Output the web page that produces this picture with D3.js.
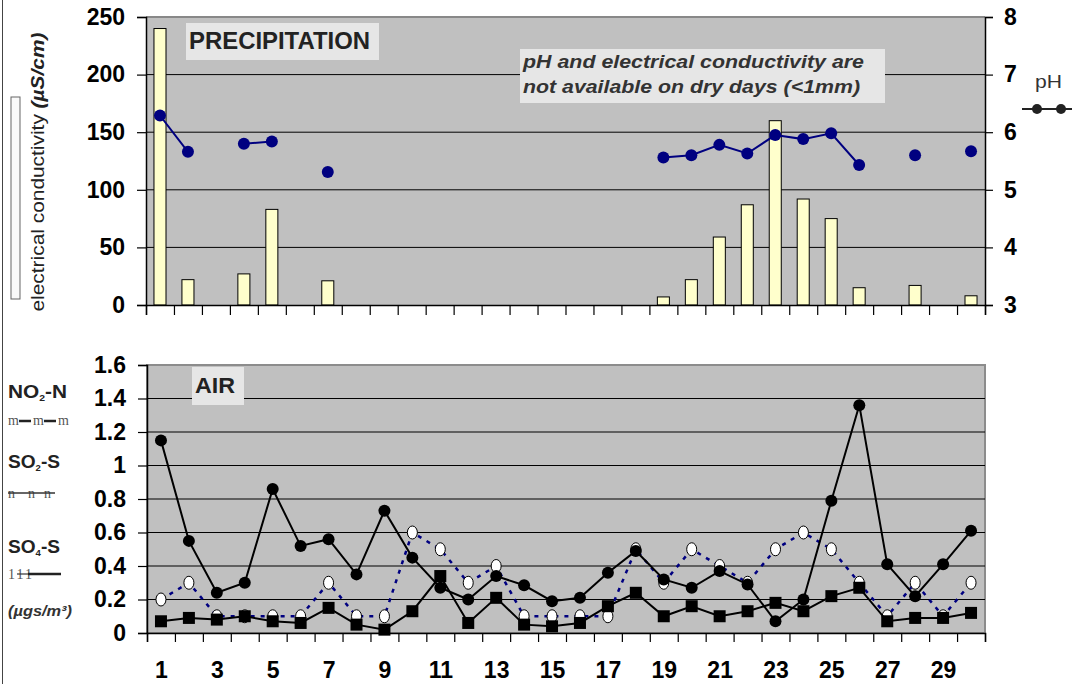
<!DOCTYPE html>
<html>
<head>
<meta charset="utf-8">
<script src="https://cdn.jsdelivr.net/npm/d3@7"></script>
<style>
  body { margin: 0; background: #fff; }
  svg { font-family: "Liberation Sans", Arial, sans-serif; }
</style>
</head>
<body>
<div id="chart"></div>
<script>
// days of the month
let days = d3.range(1, 31);
let oddDays = d3.range(1, 31, 2);

// precipitation: electrical conductivity (bars), null = dry day
let conductivity = [240, 22, null, 27, 83, null, 21, null, null, null, null, null, null, null, null, null, null, null,
  7, 22, 59, 87, 160, 92, 75, 15, null, 17, null, 8];
// precipitation pH (dots)
let ph = [6.29, 5.66, null, 5.80, 5.84, null, 5.31, null, null, null, null, null, null, null, null, null, null, null,
  5.56, 5.60, 5.78, 5.63, 5.95, 5.88, 5.98, 5.43, null, 5.60, null, 5.67];

// air concentrations (µg/m3)
let no2n = [1.15, 0.55, 0.24, 0.30, 0.86, 0.52, 0.56, 0.35, 0.73, 0.45, 0.27, 0.20, 0.34, 0.285, 0.19,
  0.21, 0.36, 0.49, 0.32, 0.27, 0.37, 0.29, 0.07, 0.20, 0.79, 1.36, 0.41, 0.22, 0.41, 0.61];
let so2s = [0.20, 0.30, 0.10, 0.10, 0.10, 0.10, 0.30, 0.10, 0.10, 0.60, 0.50, 0.30, 0.40, 0.10, 0.10,
  0.10, 0.10, 0.50, 0.30, 0.50, 0.40, 0.30, 0.50, 0.60, 0.50, 0.30, 0.10, 0.30, 0.10, 0.30];
let so4s = [0.07, 0.09, 0.08, 0.10, 0.07, 0.06, 0.15, 0.05, 0.02, 0.13, 0.34, 0.06, 0.21, 0.05, 0.04,
  0.06, 0.16, 0.24, 0.10, 0.16, 0.10, 0.13, 0.18, 0.13, 0.22, 0.27, 0.07, 0.09, 0.09, 0.12];

let ecTicks = [0, 50, 100, 150, 200, 250];
let phTicks = [3, 4, 5, 6, 7, 8];
let airTicks = [0, 0.2, 0.4, 0.6, 0.8, 1, 1.2, 1.4, 1.6];

let svg = d3.select("#chart").append("svg")
  .attr("width", 1072)
  .attr("height", 684);

// the original text is a bit wider than the font, so stretch it to a given length
function fit(sel, len) {
  return sel.attr("textLength", len).attr("lengthAdjust", "spacingAndGlyphs");
}

// left border of the chart area
svg.append("line")
  .attr("x1", 2.5).attr("x2", 2.5).attr("y1", 0).attr("y2", 684)
  .attr("stroke", "#444").attr("stroke-width", 1);

// ---------------- PRECIPITATION panel ----------------
let topBox = {left: 146, right: 985, top: 17, bottom: 305};

let xTop = d3.scaleLinear().domain([0.5, 30.5]).range([topBox.left, topBox.right]);
let yEc = d3.scaleLinear().domain([0, 250]).range([topBox.bottom, topBox.top]);
let yPh = d3.scaleLinear().domain([3, 8]).range([topBox.bottom, topBox.top]);
let bandW = xTop(1.5) - xTop(0.5);

let g1 = svg.append("g");

g1.append("rect")
  .attr("x", topBox.left).attr("y", topBox.top)
  .attr("width", topBox.right - topBox.left).attr("height", topBox.bottom - topBox.top)
  .attr("fill", "#c0c0c0");

g1.append("line")
  .attr("x1", topBox.left).attr("x2", topBox.right).attr("y1", topBox.top).attr("y2", topBox.top)
  .attr("stroke", "#888").attr("stroke-width", 2);

// gridlines
g1.selectAll(".grid")
  .data(ecTicks.filter(d => d > 0 && d < 250))
  .enter().append("line")
  .attr("x1", topBox.left).attr("x2", topBox.right)
  .attr("y1", d => yEc(d)).attr("y2", d => yEc(d))
  .attr("stroke", "#000").attr("stroke-width", 1);

// bars
g1.selectAll(".bar")
  .data(days.filter((d, i) => conductivity[i] !== null))
  .enter().append("rect")
  .attr("x", d => xTop(d) - bandW * 0.215)
  .attr("y", d => yEc(conductivity[d - 1]))
  .attr("width", bandW * 0.43)
  .attr("height", d => yEc(0) - yEc(conductivity[d - 1]))
  .attr("fill", "#ffffcc")
  .attr("stroke", "#000")
  .attr("stroke-width", 1);

// pH line (broken on dry days)
let phLine = d3.line()
  .defined(d => d.v !== null)
  .x(d => xTop(d.day))
  .y(d => yPh(d.v));

let phData = days.map((d, i) => ({day: d, v: ph[i]}));

g1.append("path")
  .datum(phData)
  .attr("d", phLine)
  .attr("fill", "none")
  .attr("stroke", "#000080")
  .attr("stroke-width", 2);

g1.selectAll(".ph")
  .data(phData.filter(d => d.v !== null))
  .enter().append("circle")
  .attr("cx", d => xTop(d.day))
  .attr("cy", d => yPh(d.v))
  .attr("r", 6)
  .attr("fill", "#000080");

// axes
let leftAxis1 = d3.axisLeft(yEc).tickValues(ecTicks).tickSize(9).tickPadding(12);
let rightAxis1 = d3.axisRight(yPh).tickValues(phTicks).tickSize(8).tickPadding(11).tickFormat(d3.format("d"));
let bottomTicks1 = d3.axisBottom(xTop).tickValues(d3.range(0.5, 31, 1)).tickSize(10).tickFormat("");

g1.append("g")
  .attr("transform", `translate(${topBox.left},0)`)
  .call(leftAxis1);
g1.append("g")
  .attr("transform", `translate(${topBox.right},0)`)
  .call(rightAxis1);
g1.append("g")
  .attr("transform", `translate(0,${topBox.bottom})`)
  .call(bottomTicks1);

// label boxes
g1.append("rect")
  .attr("x", 186).attr("y", 23).attr("width", 193).attr("height", 37)
  .attr("fill", "#e6e6e6");
fit(g1.append("text")
  .attr("x", 189).attr("y", 49)
  .attr("font-size", 23).attr("font-weight", "bold").attr("fill", "#222")
  .text("PRECIPITATION"), 181);

g1.append("rect")
  .attr("x", 520).attr("y", 49).attr("width", 365).attr("height", 54)
  .attr("fill", "#e6e6e6");
fit(g1.append("text")
  .attr("x", 523).attr("y", 68)
  .attr("font-size", 18.5).attr("font-weight", "bold").attr("font-style", "italic").attr("fill", "#333")
  .text("pH and electrical conductivity are"), 341);
fit(g1.append("text")
  .attr("x", 523).attr("y", 93)
  .attr("font-size", 18.5).attr("font-weight", "bold").attr("font-style", "italic").attr("fill", "#333")
  .text("not available on dry days (<1mm)"), 337);

// left y label with its legend swatch
svg.append("rect")
  .attr("x", 11).attr("y", 97).attr("width", 9).attr("height", 202)
  .attr("fill", "#fafafa").attr("stroke", "#666").attr("stroke-width", 1);

let ecLabel = svg.append("text")
  .attr("transform", "translate(44,172) rotate(-90)")
  .attr("text-anchor", "middle")
  .attr("font-size", 19)
  .attr("fill", "#222");
ecLabel.append("tspan").text("electrical conductivity ");
ecLabel.append("tspan").attr("font-weight", "bold").attr("font-style", "italic").text("(µS/cm)");
fit(ecLabel, 279);

// pH legend
fit(svg.append("text")
  .attr("x", 1035).attr("y", 88)
  .attr("font-size", 18).attr("fill", "#333")
  .text("pH"), 27);
svg.append("line")
  .attr("x1", 1022).attr("x2", 1072).attr("y1", 109).attr("y2", 109)
  .attr("stroke", "#222").attr("stroke-width", 2);
svg.selectAll(".phleg")
  .data([1037, 1061])
  .enter().append("circle")
  .attr("cx", d => d).attr("cy", 109).attr("r", 5)
  .attr("fill", "#222");

// ---------------- AIR panel ----------------
let botBox = {left: 147, right: 985, top: 365, bottom: 633};

let xBot = d3.scaleLinear().domain([0.5, 30.5]).range([botBox.left, botBox.right]);
let yAir = d3.scaleLinear().domain([0, 1.6]).range([botBox.bottom, botBox.top]);

let g2 = svg.append("g");

g2.append("rect")
  .attr("x", botBox.left).attr("y", botBox.top)
  .attr("width", botBox.right - botBox.left).attr("height", botBox.bottom - botBox.top)
  .attr("fill", "#c0c0c0")
  .attr("stroke", "#8c8c8c").attr("stroke-width", 2);

g2.selectAll(".grid")
  .data(airTicks.filter(d => d > 0 && d < 1.6))
  .enter().append("line")
  .attr("x1", botBox.left).attr("x2", botBox.right)
  .attr("y1", d => yAir(d)).attr("y2", d => yAir(d))
  .attr("stroke", "#000").attr("stroke-width", 1);

let airLine = d3.line()
  .x((d, i) => xBot(days[i]))
  .y(d => yAir(d));

// SO2-S: dotted navy line with open ovals
g2.append("path")
  .datum(so2s)
  .attr("d", airLine)
  .attr("fill", "none")
  .attr("stroke", "#000080")
  .attr("stroke-width", 2.5)
  .attr("stroke-dasharray", "4,6");

g2.selectAll(".so2")
  .data(so2s)
  .enter().append("ellipse")
  .attr("cx", (d, i) => xBot(days[i]))
  .attr("cy", d => yAir(d))
  .attr("rx", 5).attr("ry", 6.5)
  .attr("fill", "#fff")
  .attr("stroke", "#000").attr("stroke-width", 1);

// SO4-S: solid black line with squares
g2.append("path")
  .datum(so4s)
  .attr("d", airLine)
  .attr("fill", "none")
  .attr("stroke", "#000")
  .attr("stroke-width", 2);

g2.selectAll(".so4")
  .data(so4s)
  .enter().append("rect")
  .attr("x", (d, i) => xBot(days[i]) - 6)
  .attr("y", d => yAir(d) - 6)
  .attr("width", 12).attr("height", 12)
  .attr("fill", "#000");

// NO2-N: solid black line with filled circles
g2.append("path")
  .datum(no2n)
  .attr("d", airLine)
  .attr("fill", "none")
  .attr("stroke", "#000")
  .attr("stroke-width", 2);

g2.selectAll(".no2")
  .data(no2n)
  .enter().append("circle")
  .attr("cx", (d, i) => xBot(days[i]))
  .attr("cy", d => yAir(d))
  .attr("r", 6)
  .attr("fill", "#000");

// axes
let leftAxis2 = d3.axisLeft(yAir).tickValues(airTicks).tickSize(9).tickPadding(12).tickFormat(d3.format("~g"));
let bottomTicks2 = d3.axisBottom(xBot).tickValues(d3.range(0.5, 31, 1)).tickSize(9).tickFormat("");
let bottomLabels2 = d3.axisBottom(xBot).tickValues(oddDays).tickSize(0).tickPadding(29);

g2.append("g")
  .attr("transform", `translate(${botBox.left},0)`)
  .call(leftAxis2);
g2.append("g")
  .attr("transform", `translate(0,${botBox.bottom})`)
  .call(bottomTicks2);
g2.append("g")
  .attr("class", "xlabels")
  .attr("transform", `translate(0,${botBox.bottom})`)
  .call(bottomLabels2)
  .select(".domain").remove();

g2.append("rect")
  .attr("x", 192).attr("y", 367).attr("width", 52).attr("height", 38)
  .attr("fill", "#e6e6e6");
fit(g2.append("text")
  .attr("x", 195).attr("y", 393)
  .attr("font-size", 22).attr("font-weight", "bold").attr("fill", "#222")
  .text("AIR"), 40);

// style axes
svg.selectAll(".domain").attr("stroke", "#000").attr("stroke-width", 1.5);
svg.selectAll(".tick line").attr("stroke", "#000").attr("stroke-width", 1.2);
svg.selectAll(".tick text")
  .attr("font-family", "'Liberation Sans', Arial, sans-serif")
  .attr("font-size", 23)
  .attr("font-weight", "bold")
  .attr("fill", "#000");

// ---------------- air legend (left side) ----------------
let leg = svg.append("g").attr("fill", "#222");

function legendTitle(y, main, sub, tail, len) {
  let t = leg.append("text")
    .attr("x", 8).attr("y", y)
    .attr("font-size", 18).attr("font-weight", "bold");
  t.append("tspan").text(main);
  t.append("tspan").attr("font-size", 9).attr("dy", 3).text(sub);
  t.append("tspan").attr("dy", -3).text(tail);
  fit(t, len);
}
legendTitle(398, "NO", "2", "-N", 59);
legendTitle(468, "SO", "2", "-S", 52);
legendTitle(553, "SO", "4", "-S", 52);

let symFont = "'Liberation Serif', 'DejaVu Serif', serif";

// NO2-N symbol row
leg.selectAll(".m")
  .data([8, 33, 58])
  .enter().append("text")
  .attr("x", d => d).attr("y", 425)
  .attr("font-family", symFont).attr("font-size", 14).attr("fill", "#555")
  .text("m");
leg.selectAll(".dash1")
  .data([[19, 31], [44, 56]])
  .enter().append("line")
  .attr("x1", d => d[0]).attr("x2", d => d[1])
  .attr("y1", 421).attr("y2", 421)
  .attr("stroke", "#222").attr("stroke-width", 2.5);

// SO2-S symbol row
leg.selectAll(".n")
  .data([8, 28, 44])
  .enter().append("text")
  .attr("x", d => d).attr("y", 498)
  .attr("font-family", symFont).attr("font-size", 14).attr("fill", "#555")
  .text("n");
leg.append("line")
  .attr("x1", 8).attr("x2", 55).attr("y1", 493).attr("y2", 493)
  .attr("stroke", "#333").attr("stroke-width", 1.5);

// SO4-S symbol row
leg.append("text")
  .attr("x", 8).attr("y", 579)
  .attr("font-family", symFont).attr("font-size", 14).attr("fill", "#555")
  .attr("letter-spacing", 2)
  .text("111");
leg.append("line")
  .attr("x1", 17).attr("x2", 28).attr("y1", 574).attr("y2", 574)
  .attr("stroke", "#333").attr("stroke-width", 1.2);
leg.append("line")
  .attr("x1", 28).attr("x2", 61).attr("y1", 574).attr("y2", 574)
  .attr("stroke", "#222").attr("stroke-width", 2.5);

fit(leg.append("text")
  .attr("x", 8).attr("y", 616)
  .attr("font-size", 14).attr("font-weight", "bold").attr("font-style", "italic")
  .attr("fill", "#333")
  .text("(µgs/m³)"), 64);
</script>
</body>
</html>
